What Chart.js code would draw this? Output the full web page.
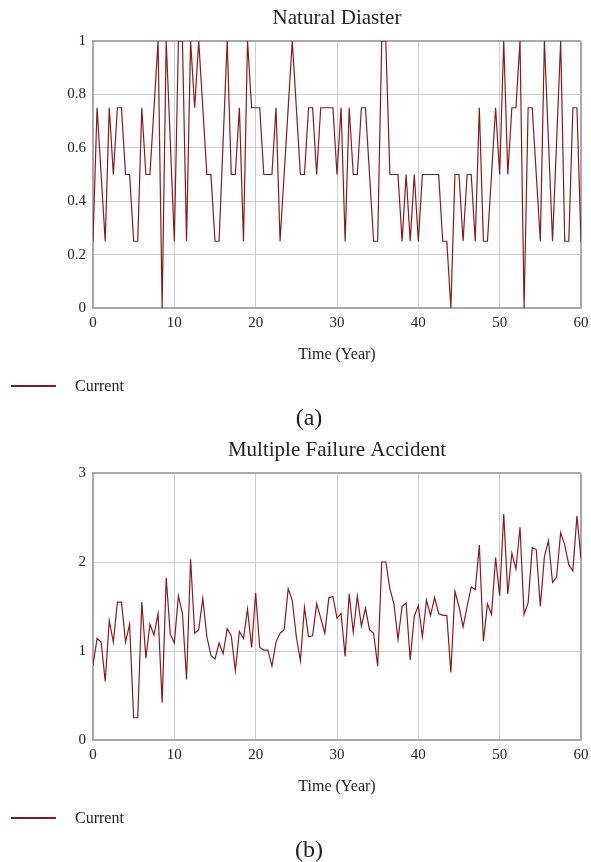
<!DOCTYPE html>
<html>
<head>
<meta charset="utf-8">
<title>Natural Diaster / Multiple Failure Accident</title>
<script src="https://cdn.jsdelivr.net/npm/chart.js@4.4.1/dist/chart.umd.min.js"></script>
<style>
  body { margin: 0; background: #fff; }
  #page { position: relative; width: 591px; height: 862px; overflow: hidden; font-family: "Liberation Serif", "Times New Roman", serif; color: #222; }
  .panel { position: absolute; left: 0; }
  .legend { position: absolute; left: 11px; height: 20px; display: flex; align-items: center; font-size: 16px; }
  .legend .swatch { width: 45px; height: 2px; background: #8b1a1a; margin-right: 19px; }
  .caption { position: absolute; width: 60px; margin-left: -30px; text-align: center; font-size: 24px; line-height: 24px; }
</style>
</head>
<body>
<div id="page">
  <canvas id="chartA" class="panel" style="top:0" width="591" height="432"></canvas>
  <div class="legend" style="top:376px"><span class="swatch"></span>Current</div>
  <div class="caption" style="left:309px; top:405px">(a)</div>

  <canvas id="chartB" class="panel" style="top:432px" width="591" height="430"></canvas>
  <div class="legend" style="top:808px"><span class="swatch"></span>Current</div>
  <div class="caption" style="left:309px; top:837px">(b)</div>
</div>

<script>
// time steps (years), half-year resolution
const TIME = [
  0, 0.5, 1, 1.5, 2, 2.5, 3, 3.5, 4, 4.5,
  5, 5.5, 6, 6.5, 7, 7.5, 8, 8.5, 9, 9.5,
  10, 10.5, 11, 11.5, 12, 12.5, 13, 13.5, 14, 14.5,
  15, 15.5, 16, 16.5, 17, 17.5, 18, 18.5, 19, 19.5,
  20, 20.5, 21, 21.5, 22, 22.5, 23, 23.5, 24, 24.5,
  25, 25.5, 26, 26.5, 27, 27.5, 28, 28.5, 29, 29.5,
  30, 30.5, 31, 31.5, 32, 32.5, 33, 33.5, 34, 34.5,
  35, 35.5, 36, 36.5, 37, 37.5, 38, 38.5, 39, 39.5,
  40, 40.5, 41, 41.5, 42, 42.5, 43, 43.5, 44, 44.5,
  45, 45.5, 46, 46.5, 47, 47.5, 48, 48.5, 49, 49.5,
  50, 50.5, 51, 51.5, 52, 52.5, 53, 53.5, 54, 54.5,
  55, 55.5, 56, 56.5, 57, 57.5, 58, 58.5, 59, 59.5,
  60
];

// (a) Natural Diaster - Current
const naturalDisaster = [
  0.25, 0.75, 0.5, 0.25, 0.75, 0.5, 0.75, 0.75, 0.5, 0.5,
  0.25, 0.25, 0.75, 0.5, 0.5, 0.75, 1, 0, 1, 0.625,
  0.25, 1, 1, 0.25, 1, 0.75, 1, 0.75, 0.5, 0.5,
  0.25, 0.25, 0.625, 1, 0.5, 0.5, 0.75, 0.25, 1, 0.75,
  0.75, 0.75, 0.5, 0.5, 0.5, 0.75, 0.25, 0.5, 0.75, 1,
  0.75, 0.5, 0.5, 0.75, 0.75, 0.5, 0.75, 0.75, 0.75, 0.75,
  0.5, 0.75, 0.25, 0.75, 0.5, 0.5, 0.75, 0.75, 0.5, 0.25,
  0.25, 1, 1, 0.5, 0.5, 0.5, 0.25, 0.5, 0.25, 0.5,
  0.25, 0.5, 0.5, 0.5, 0.5, 0.5, 0.25, 0.25, 0, 0.5,
  0.5, 0.25, 0.5, 0.5, 0.25, 0.75, 0.25, 0.25, 0.5, 0.75,
  0.5, 1, 0.5, 0.75, 0.75, 1, 0, 0.75, 0.75, 0.5,
  0.25, 1, 0.625, 0.25, 0.625, 1, 0.25, 0.25, 0.75, 0.75,
  0.25
];

// (b) Multiple Failure Accident - Current
const multipleFailure = [
  0.84, 1.14, 1.10, 0.66, 1.34, 1.10, 1.55, 1.55, 1.10, 1.30,
  0.25, 0.25, 1.55, 0.92, 1.30, 1.18, 1.42, 0.42, 1.82, 1.19,
  1.09, 1.62, 1.42, 0.68, 2.03, 1.20, 1.24, 1.59, 1.16, 0.95,
  0.91, 1.09, 0.97, 1.25, 1.17, 0.78, 1.22, 1.14, 1.47, 1.04,
  1.65, 1.04, 1.01, 1.01, 0.83, 1.10, 1.20, 1.24, 1.70, 1.57,
  1.16, 0.89, 1.49, 1.16, 1.17, 1.53, 1.37, 1.20, 1.60, 1.61,
  1.37, 1.42, 0.94, 1.64, 1.21, 1.62, 1.28, 1.48, 1.24, 1.20,
  0.83, 2.00, 2.00, 1.70, 1.53, 1.13, 1.50, 1.54, 0.90, 1.39,
  1.51, 1.16, 1.57, 1.40, 1.60, 1.42, 1.40, 1.40, 0.76, 1.67,
  1.50, 1.27, 1.50, 1.72, 1.69, 2.19, 1.11, 1.53, 1.41, 2.05,
  1.62, 2.54, 1.64, 2.10, 1.92, 2.39, 1.41, 1.54, 2.16, 2.14,
  1.50, 2.06, 2.24, 1.77, 1.83, 2.33, 2.19, 1.97, 1.90, 2.52,
  2.04
];

const X_TICKS = [0, 10, 20, 30, 40, 50, 60];
const SERIES_LABEL = "Current";
const X_TITLE = "Time (Year)";

const FONT = "'Liberation Serif', 'Times New Roman', serif";
const TEXT = "#222";
const LINE = "#8b1a1a";
const GRID = "#cdcdcd";
const FRAME = "#a9a9a9";

function makeChart(id, title, values, yMax, yStep, padBottom) {
  const ctx = document.getElementById(id).getContext("2d");
  const xMax = X_TICKS[X_TICKS.length - 1];
  return new Chart(ctx, {
    type: "line",
    data: {
      datasets: [{
        label: SERIES_LABEL,
        data: TIME.map((t, i) => ({ x: t, y: values[i] })),
        borderColor: LINE,
        borderWidth: 1.2,
        pointRadius: 0,
        tension: 0,
        fill: false,
      }],
    },
    options: {
      responsive: false,
      animation: false,
      layout: { padding: { left: 0, right: 10, top: 0, bottom: padBottom } },
      plugins: {
        legend: { display: false },
        tooltip: { enabled: false },
        title: {
          display: true,
          fullSize: false, // centre over the plot, not the canvas
          text: title,
          color: TEXT,
          font: { family: FONT, size: 21, weight: "normal" },
          padding: { top: 5.4, bottom: 10.4 },
        },
      },
      scales: {
        x: {
          type: "linear",
          min: X_TICKS[0],
          max: xMax,
          afterFit: (s) => { s.height = 60; s.paddingLeft = 0; s.paddingRight = 0; },
          afterBuildTicks: (s) => { s.ticks = X_TICKS.map((v) => ({ value: v })); },
          ticks: { padding: 6, color: TEXT, font: { family: FONT, size: 15 } },
          grid: {
            drawTicks: false,
            color: (c) => (c.tick && c.tick.value === xMax ? FRAME : GRID),
            lineWidth: (c) => (c.tick && c.tick.value === xMax ? 2 : 1),
          },
          border: { color: FRAME, width: 2 },
          title: {
            display: true,
            text: X_TITLE,
            color: TEXT,
            font: { family: FONT, size: 16 },
            padding: { top: 0, bottom: 3.9 },
          },
        },
        y: {
          min: 0,
          max: yMax,
          afterFit: (s) => { s.width = 93; },
          ticks: {
            stepSize: yStep,
            padding: 7,
            color: TEXT,
            font: { family: FONT, size: 15 },
            callback: (v) => String(Math.round(v * 100) / 100),
          },
          grid: {
            drawTicks: false,
            color: (c) => (c.tick && c.tick.value === yMax ? FRAME : GRID),
            lineWidth: (c) => (c.tick && c.tick.value === yMax ? 2 : 1),
          },
          border: { color: FRAME, width: 2 },
        },
      },
    },
  });
}

makeChart("chartA", "Natural Diaster", naturalDisaster, 1, 0.2, 64);
makeChart("chartB", "Multiple Failure Accident", multipleFailure, 3, 1, 62);
</script>
</body>
</html>
